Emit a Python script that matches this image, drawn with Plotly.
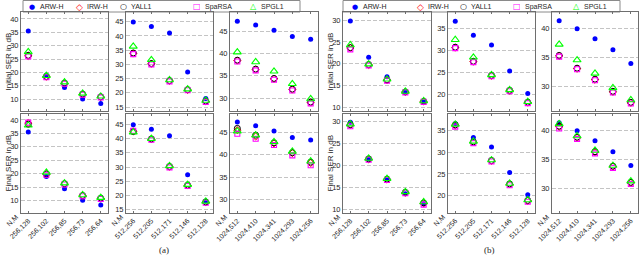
import plotly.graph_objects as go

# ---------------- data ----------------
HEADER = "N,M"
TICKS_256 = ["256,128", "256,102", "256,85", "256,73", "256,64"]
TICKS_512 = ["512,256", "512,205", "512,171", "512,146", "512,128"]
TICKS_1024 = ["1024,512", "1024,410", "1024,341", "1024,293", "1024,256"]
SERIES = ["ARW-H", "IRW-H", "YALL1", "SpaRSA", "SPGL1"]

# group (a)  -- each list holds the three panels (N=256, 512, 1024)
A_ARW = [[35.5, 19.0, 14.4, 10.1, 8.4], [44.9, 43.3, 41.0, 27.3, 18.0], [47.2, 46.4, 45.2, 43.8, 43.2]]
A_INIT_IRW = [[26.2, 18.4, 15.9, 11.8, 10.8], [33.8, 30.2, 24.2, 21.0, 17.0], [38.4, 36.4, 34.3, 31.9, 29.0]]
A_INIT_YALL = [[26.4, 18.5, 16.0, 11.9, 10.9], [34.0, 30.3, 24.3, 21.1, 17.1], [38.5, 36.5, 34.4, 32.0, 29.1]]
A_INIT_SPARSA = [[26.0, 18.2, 15.8, 11.7, 10.7], [33.6, 30.0, 24.0, 20.9, 16.8], [38.2, 36.2, 34.1, 31.7, 28.8]]
A_INIT_SPGL = [[27.7, 18.8, 16.4, 12.2, 11.1], [36.3, 31.6, 24.5, 21.3, 17.3], [40.3, 38.1, 36.0, 33.2, 29.8]]
A_FIN_IRW = [[38.8, 19.8, 16.2, 11.8, 10.8], [42.6, 39.8, 30.1, 23.5, 17.6], [45.4, 44.0, 42.5, 40.3, 38.1]]
A_FIN_YALL = [[38.4, 19.9, 16.3, 11.9, 10.9], [42.5, 39.9, 30.2, 23.6, 17.7], [45.8, 44.3, 42.6, 40.4, 38.3]]
A_FIN_SPARSA = [[39.0, 19.6, 16.0, 11.6, 10.6], [42.8, 39.6, 29.9, 23.3, 17.4], [44.6, 43.5, 42.1, 39.8, 37.6]]
A_FIN_SPGL = [[38.0, 20.5, 16.5, 12.1, 11.1], [42.3, 40.0, 30.4, 23.8, 17.9], [45.2, 44.3, 42.8, 40.7, 38.5]]

# group (b)
B_ARW = [[29.8, 21.5, 17.0, 13.6, 11.3], [36.6, 33.4, 31.2, 25.3, 20.2], [41.4, 40.0, 38.3, 36.4, 34.0]]
B_INIT_IRW = [[23.6, 19.7, 16.2, 13.5, 11.3], [30.6, 27.4, 24.2, 20.8, 18.1], [35.3, 33.1, 31.2, 29.1, 27.2]]
B_INIT_YALL = [[23.7, 19.8, 16.3, 13.5, 11.3], [30.7, 27.5, 24.3, 20.9, 18.2], [35.4, 33.2, 31.3, 29.2, 27.3]]
B_INIT_SPARSA = [[23.3, 19.6, 16.1, 13.4, 11.2], [30.5, 27.3, 24.1, 20.7, 18.0], [35.2, 33.0, 31.1, 29.0, 27.1]]
B_INIT_SPGL = [[24.3, 19.9, 16.4, 13.6, 11.4], [32.4, 28.4, 24.4, 21.0, 18.3], [37.3, 34.6, 32.3, 29.8, 27.7]]
B_FIN_IRW = [[29.2, 21.4, 16.8, 13.8, 11.4], [36.2, 32.3, 28.0, 22.6, 18.8], [40.7, 38.8, 36.3, 33.8, 31.0]]
B_FIN_YALL = [[29.3, 21.5, 16.9, 13.9, 11.5], [36.3, 32.4, 28.1, 22.7, 18.9], [40.8, 38.9, 36.4, 33.9, 31.1]]
B_FIN_SPARSA = [[28.9, 21.3, 16.7, 13.7, 11.1], [35.9, 32.1, 27.9, 22.4, 18.6], [40.4, 38.6, 36.1, 33.6, 30.8]]
B_FIN_SPGL = [[29.4, 21.6, 17.0, 14.0, 11.7], [36.4, 32.5, 28.2, 22.8, 19.0], [41.2, 39.1, 36.6, 34.0, 31.3]]

# ---------------- layout / style ----------------
W, H = 640, 257
FONT = "Liberation Sans, Arial, sans-serif"
AXCOL = "#6e6e6e"
TXT = "#262626"

def fx(p):
    return p / W

def fy(p):
    return 1 - p / H

COL_PX = {"a": [(21, 108), (126, 213), (230, 318)],
          "b": [(343, 431), (448, 535), (552, 638)]}
ROW_PX = [(12, 111), (114, 213)]
YRANGE = {
    ("a", 0): [[5.6, 42.6], [13.6, 48.4], [27.1, 49.3]],
    ("a", 1): [[5.4, 42.2], [13.8, 48.7], [27.0, 49.0]],
    ("b", 0): [[9.1, 31.9], [16.2, 38.7], [25.8, 42.9]],
    ("b", 1): [[9.2, 31.7], [16.0, 38.8], [25.8, 42.9]],
}
COLORS = {"ARW-H": "#0000ff", "IRW-H": "#ff0000", "YALL1": "#000000", "SpaRSA": "#ff00ff", "SPGL1": "#00ff00"}
STYLE = {
    "ARW-H": dict(symbol="circle", size=5, color=COLORS["ARW-H"], line=dict(width=0)),
    "IRW-H": dict(symbol="diamond-open", size=5.5, color=COLORS["IRW-H"], line=dict(width=1)),
    "YALL1": dict(symbol="circle-open", size=6, color=COLORS["YALL1"], line=dict(width=1)),
    "SpaRSA": dict(symbol="square-open", size=5, color=COLORS["SpaRSA"], line=dict(width=1.1)),
    "SPGL1": dict(symbol="triangle-up-open", size=7, color=COLORS["SPGL1"], line=dict(width=1.1)),
}
GLYPH = {"ARW-H": "\u25CF", "IRW-H": "\u25C7", "YALL1": "\u25CB", "SpaRSA": "\u25A1", "SPGL1": "\u25B3"}
GLYPH_SIZE = {"ARW-H": 7, "IRW-H": 9, "YALL1": 8, "SpaRSA": 8, "SPGL1": 8}
# legend key x offsets (px) from each legend box's left edge
LEG_KEY_DX = {"a": [9, 56, 100, 174, 230], "b": [12, 77, 120, 174, 233]}
LEG_BOX = {"a": (23, 300), "b": (343, 620)}

DATA = {
    "a": {"ARW-H": (A_ARW, A_ARW), "IRW-H": (A_INIT_IRW, A_FIN_IRW), "YALL1": (A_INIT_YALL, A_FIN_YALL),
          "SpaRSA": (A_INIT_SPARSA, A_FIN_SPARSA), "SPGL1": (A_INIT_SPGL, A_FIN_SPGL)},
    "b": {"ARW-H": (B_ARW, B_ARW), "IRW-H": (B_INIT_IRW, B_FIN_IRW), "YALL1": (B_INIT_YALL, B_FIN_YALL),
          "SpaRSA": (B_INIT_SPARSA, B_FIN_SPARSA), "SPGL1": (B_INIT_SPGL, B_FIN_SPGL)},
}
TICKS = [TICKS_256, TICKS_512, TICKS_1024]

fig = go.Figure()
layout = {}
annotations = []
k = 0
for g in ("a", "b"):
    for r in range(2):
        for c in range(3):
            k += 1
            xa = "x" if k == 1 else f"x{k}"
            ya = "y" if k == 1 else f"y{k}"
            ticks = TICKS[c]
            xpos = list(range(len(ticks)))
            for s in SERIES:
                vals = DATA[g][s][r][c]
                fig.add_trace(go.Scatter(
                    x=xpos, y=vals, mode="markers", name=s,
                    marker=STYLE[s], xaxis=xa, yaxis=ya, showlegend=False,
                ))
            x0, x1 = COL_PX[g][c]
            y0, y1 = ROW_PX[r]
            layout["xaxis" if k == 1 else f"xaxis{k}"] = dict(
                domain=[fx(x0), fx(x1)], anchor=ya, range=[-0.4, len(ticks) - 0.6],
                tickmode="array", tickvals=xpos, ticktext=ticks,
                showticklabels=(r == 1), tickangle=-45, automargin=False,
                ticks="inside", ticklen=2, tickcolor=AXCOL,
                showline=True, linecolor=AXCOL, linewidth=1, mirror="ticks",
                showgrid=False, zeroline=False,
                tickfont=dict(size=7, family=FONT, color=TXT),
            )
            layout["yaxis" if k == 1 else f"yaxis{k}"] = dict(
                domain=[fy(y1), fy(y0)], anchor=xa, range=YRANGE[(g, r)][c], automargin=False,
                dtick=5, tick0=0, ticks="", showline=True, linecolor=AXCOL, linewidth=1,
                mirror=True, showgrid=True, gridcolor="#c4c4c4", griddash="4px,2px", gridwidth=1,
                zeroline=False, tickfont=dict(size=7.5, family=FONT, color=TXT),
            )
            if r == 1:
                # "N,M" header placed next to the first tick label
                annotations.append(dict(
                    text=HEADER, xref=xa, x=xpos[0], yref="paper", y=fy(220.5), xshift=-16,
                    showarrow=False, textangle=-45, xanchor="center", yanchor="middle",
                    font=dict(size=7, family=FONT, color=TXT),
                ))

for g, xc in (("a", 8), ("b", 330)):
    for r, txt in ((0, "Initial SER in dB"), (1, "Final SER in dB")):
        y0, y1 = ROW_PX[r]
        annotations.append(dict(
            text=txt, x=fx(xc), y=fy((y0 + y1) / 2), xref="paper", yref="paper",
            showarrow=False, textangle=-90, xanchor="center", yanchor="middle",
            font=dict(size=8, family=FONT, color=TXT),
        ))
for lab, xc in (("(a)", 164), ("(b)", 489)):
    annotations.append(dict(text=lab, x=fx(xc), y=fy(250), xref="paper", yref="paper", showarrow=False,
                            xanchor="center", yanchor="middle",
                            font=dict(size=9, family="Liberation Serif, serif", color=TXT)))

shapes = []
for g in ("a", "b"):
    bx0, bx1 = LEG_BOX[g]
    shapes.append(dict(type="rect", xref="paper", yref="paper", x0=fx(bx0), x1=fx(bx1), y0=fy(12), y1=fy(0.5),
                       line=dict(color="#8a8a8a", width=1), fillcolor="white", layer="below"))
    for s, dx in zip(SERIES, LEG_KEY_DX[g]):
        annotations.append(dict(
            text=GLYPH[s], x=fx(bx0 + dx), y=fy(6.5), xref="paper", yref="paper", showarrow=False,
            xanchor="center", yanchor="middle",
            font=dict(size=GLYPH_SIZE[s], family="DejaVu Sans", color=COLORS[s]),
        ))
        annotations.append(dict(
            text=s, x=fx(bx0 + dx + 6), y=fy(6.5), xref="paper", yref="paper", showarrow=False,
            xanchor="left", yanchor="middle",
            font=dict(size=7, family=FONT, color=TXT),
        ))

fig.update_layout(
    template="none",
    width=W, height=H, margin=dict(l=0, r=0, t=0, b=0, pad=0, autoexpand=False),
    paper_bgcolor="white", plot_bgcolor="white", showlegend=False,
    annotations=annotations, shapes=shapes,
    **layout,
)
fig.write_html(
    "out.html",
    config={"displayModeBar": False, "staticPlot": True},
    post_script="document.body.style.margin='0';document.body.style.padding='0';"
                "document.body.style.overflow='hidden';",
)
